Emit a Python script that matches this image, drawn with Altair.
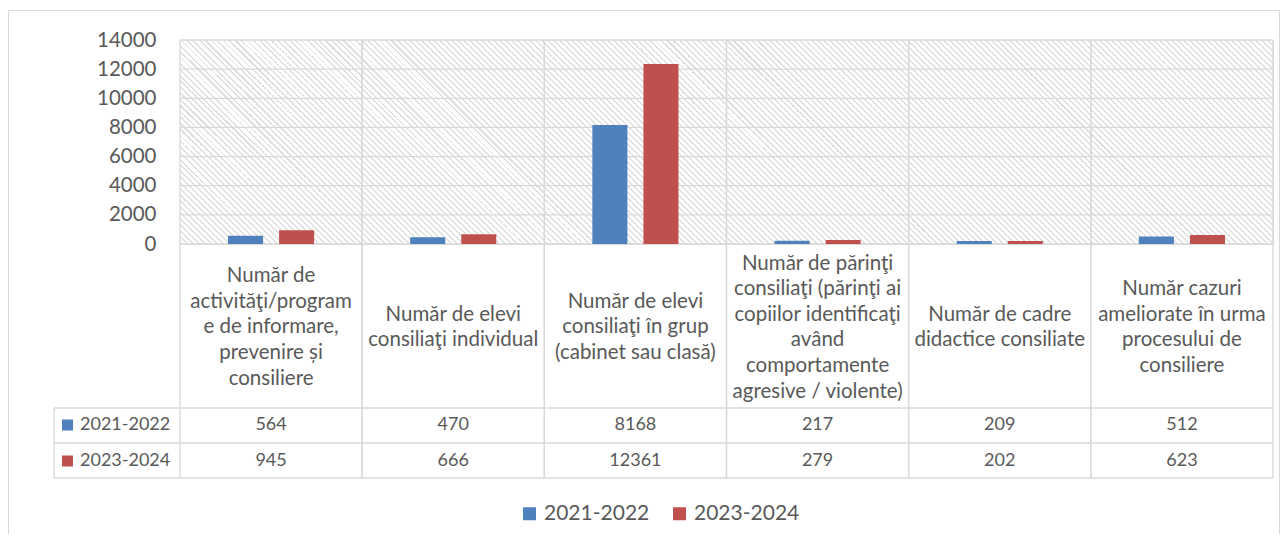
import math
import altair as alt
import pandas as pd

categories = [
    "Număr de\nactivităţi/program\ne de informare,\nprevenire și\nconsiliere",
    "Număr de elevi\nconsiliaţi individual",
    "Număr de elevi\nconsiliaţi în grup\n(cabinet sau clasă)",
    "Număr de părinţi\nconsiliaţi (părinţi ai\ncopiilor identificaţi\navând\ncomportamente\nagresive / violente)",
    "Număr de cadre\ndidactice consiliate",
    "Număr cazuri\nameliorate în urma\nprocesului de\nconsiliere",
]
series = ["2021-2022", "2023-2024"]
values_2021_2022 = [564, 470, 8168, 217, 209, 512]
values_2023_2024 = [945, 666, 12361, 279, 202, 623]
colors = ["#4f81bd", "#c0504d"]
y_ticks = [0, 2000, 4000, 6000, 8000, 10000, 12000, 14000]

rows = []
for s, vals in zip(series, [values_2021_2022, values_2023_2024]):
    for c, v in zip(categories, vals):
        rows.append({"cat": c, "series": s, "value": v})
df = pd.DataFrame(rows)
df_cats = pd.DataFrame({"cat": categories})
df_series = pd.DataFrame({"series": series})
df_ticks = pd.DataFrame({"tick": y_ticks})
one = pd.DataFrame({"k": [0]})

TXT = "#595959"
LINE = "#d9d9d9"
FONT = "Lato"
LW = 1.3
W, H = 1093, 204

# diagonal hatch fill for the plot background (style only)
span = W + H
period, dark = 6.0, 2.0
stops = []
n = int(math.ceil(span / period))
for i in range(n):
    a = i * period / span
    b = min((i * period + dark) / span, 1.0)
    c = min((i + 1) * period / span, 1.0)
    stops += [
        alt.GradientStop(offset=min(a, 1.0), color="#dfdfdf"),
        alt.GradientStop(offset=b, color="#dfdfdf"),
        alt.GradientStop(offset=b, color="#ffffff"),
        alt.GradientStop(offset=c, color="#ffffff"),
    ]
k = span / (W * W + H * H)
hatch_fill = alt.LinearGradient(gradient="linear", stops=stops,
                                x1=0, y1=1, x2=k * W, y2=1 - k * H)

xscale = alt.Scale(domain=categories, paddingInner=0, paddingOuter=0)
yscale = alt.Scale(domain=[0, 14000], nice=False)


def X(bp=None):
    if bp is None:
        return alt.X("cat:N", sort=categories, scale=xscale, axis=None)
    return alt.X("cat:N", sort=categories, scale=xscale, axis=None, bandPosition=bp)


color_enc = alt.Color(
    "series:N",
    sort=series,
    scale=alt.Scale(domain=series, range=colors),
    legend=alt.Legend(
        orient="none", legendX=339, legendY=463, direction="horizontal", title=None,
        symbolType="square", symbolSize=169, symbolStrokeWidth=0, symbolOpacity=1,
        labelFontSize=21, labelColor=TXT, labelFont=FONT, labelOffset=4,
        columnPadding=19, padding=0,
    ),
)

row_y = alt.Y("series:N", sort=series,
              scale=alt.Scale(type="point", domain=series, range=[385, 421], padding=0),
              axis=None)

hatch = alt.Chart(one).mark_rect(fill=hatch_fill, strokeWidth=0).encode(
    x=alt.value(0), x2=alt.value(W), y=alt.value(0), y2=alt.value(H))

gridrules = alt.Chart(df_ticks).mark_rule(color=LINE, strokeWidth=LW).encode(
    y=alt.Y("tick:Q", scale=yscale, axis=None))

bars = alt.Chart(df).mark_bar().encode(
    x=X(),
    xOffset=alt.XOffset("series:N", sort=series,
                        scale=alt.Scale(domain=series, paddingInner=0.314, paddingOuter=0.94)),
    y=alt.Y("value:Q", scale=yscale,
            axis=alt.Axis(values=y_ticks, format="d", title=None, grid=False,
                          domain=False, ticks=False, labelPadding=24,
                          labelFontSize=20.5, labelColor=TXT, labelFont=FONT)),
    color=color_enc,
)

vlines = alt.Chart(df_cats).mark_rule(color=LINE, strokeWidth=LW).encode(
    x=X(0), y=alt.value(0), y2=alt.value(438))
vlines_end = alt.Chart(df_cats).mark_rule(color=LINE, strokeWidth=LW).encode(
    x=X(1), y=alt.value(0), y2=alt.value(438))

h1 = alt.Chart(one).mark_rule(color=LINE, strokeWidth=LW).encode(
    x=alt.value(-126), x2=alt.value(W), y=alt.value(368))
h2 = alt.Chart(one).mark_rule(color=LINE, strokeWidth=LW).encode(
    x=alt.value(-126), x2=alt.value(W), y=alt.value(403))
h3 = alt.Chart(one).mark_rule(color=LINE, strokeWidth=LW).encode(
    x=alt.value(-126), x2=alt.value(W), y=alt.value(438))
vleft = alt.Chart(one).mark_rule(color=LINE, strokeWidth=LW).encode(
    x=alt.value(-126), y=alt.value(368), y2=alt.value(438))

border = alt.Chart(one).mark_rect(fillOpacity=0, stroke=LINE, strokeWidth=1).encode(
    x=alt.value(-171.5), x2=alt.value(1099.5), y=alt.value(-29.5), y2=alt.value(560))

header = alt.Chart(df_cats).transform_calculate(
    ty="287.5 - (length(split(datum.cat, '\\n')) - 1) * 12.8"
).mark_text(
    lineBreak="\n", lineHeight=25.6, fontSize=20.5, font=FONT, color=TXT, baseline="middle"
).encode(x=X(), y=alt.Y("ty:Q", scale=None, axis=None), text="cat:N")

vals = alt.Chart(df).mark_text(fontSize=18, font=FONT, color=TXT, baseline="middle").encode(
    x=X(), y=row_y, text=alt.Text("value:Q", format="d"))

row_labels = alt.Chart(df_series).mark_text(
    fontSize=18, font=FONT, color=TXT, baseline="middle", align="left"
).encode(x=alt.value(-100), y=row_y, text="series:N")

row_squares = alt.Chart(df_series).mark_square(size=121, opacity=1).encode(
    x=alt.value(-112.5), y=row_y, color=color_enc)

chart = alt.layer(
    border, hatch, gridrules, vlines, vlines_end, bars, h1, h2, h3, vleft,
    header, vals, row_labels, row_squares
).resolve_scale(y="independent").properties(
    width=W, height=H,
    autosize=alt.AutoSizeParams(type="none"),
    padding={"left": 172, "top": 32, "right": 7, "bottom": 290},
).configure(font=FONT, background="white").configure_view(stroke=LINE, fill="#ffffff")

chart.save("out.html", embed_options={"renderer": "svg", "actions": False})
